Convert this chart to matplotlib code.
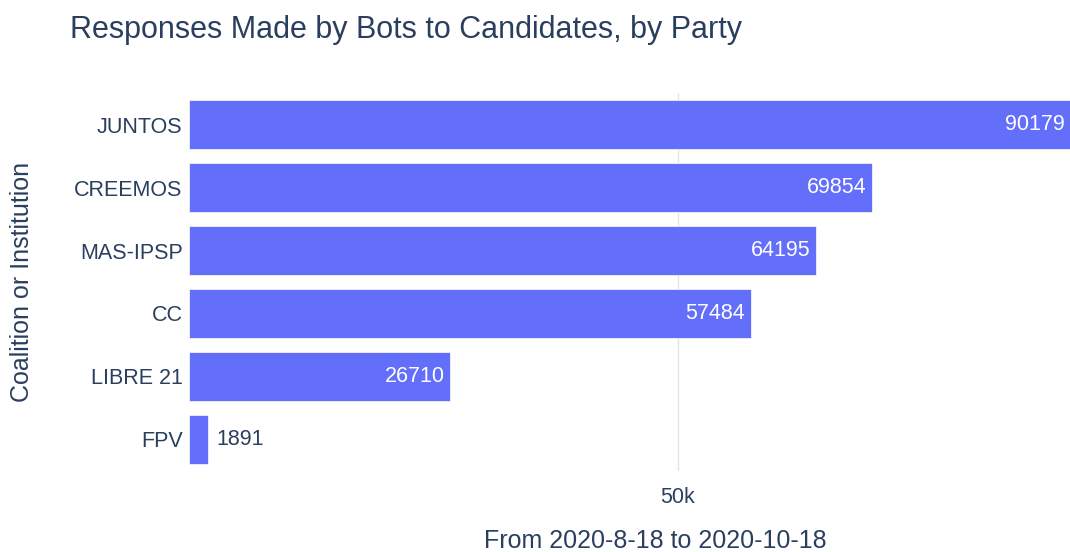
import matplotlib
matplotlib.use("Agg")
import matplotlib.pyplot as plt

parties = ["JUNTOS", "CREEMOS", "MAS-IPSP", "CC", "LIBRE 21", "FPV"]
responses = [90179, 69854, 64195, 57484, 26710, 1891]

BAR = "#636efa"
TXT = "#2a3f5f"
plt.rcParams["font.family"] = ["Liberation Sans", "DejaVu Sans"]

W, H = 1070, 552
fig = plt.figure(figsize=(W / 100, H / 100), dpi=100)
ax = fig.add_axes([189.5 / W, (H - 470.5) / H, 880.5 / W, 377 / H])

ypos = list(range(len(parties)))
ax.barh(ypos, responses, height=0.78, color=BAR, edgecolor="white", lw=0.5, zorder=2)
ax.set_ylim(len(parties) - 0.5, -0.5)
ax.set_xlim(0, 90150)

ax.set_yticks(ypos)
ax.set_yticklabels(parties, fontsize=15.5, color=TXT)
ax.set_xticks([50000])
ax.set_xticklabels(["50k"], fontsize=15.5, color=TXT)
ax.tick_params(axis="y", length=0, pad=5)
ax.tick_params(axis="x", length=0, pad=12)
ax.grid(axis="x", color="#e5e5e5", lw=1, zorder=0)
for s in ax.spines.values():
    s.set_visible(False)

for y, v in zip(ypos, responses):
    if v > 10000:
        ax.annotate(str(v), (v, y), xytext=(-4, 0), textcoords="offset points",
                    ha="right", va="center", color="white", fontsize=15.5, zorder=3,
                    annotation_clip=False)
    else:
        ax.annotate(str(v), (v, y), xytext=(6, 0), textcoords="offset points",
                    ha="left", va="center", color=TXT, fontsize=15.5, zorder=3,
                    annotation_clip=False)

fig.text(655 / W, 1 - 541 / H, "From 2020-8-18 to 2020-10-18",
         fontsize=18, color=TXT, ha="center", va="center")
fig.text(22 / W, 1 - 282 / H, "Coalition or Institution", rotation=90,
         fontsize=18, color=TXT, ha="center", va="center")
fig.text(70 / W, 1 - 30 / H, "Responses Made by Bots to Candidates, by Party",
         fontsize=22, color=TXT, ha="left", va="center")

fig.savefig("out.png", dpi=100)
